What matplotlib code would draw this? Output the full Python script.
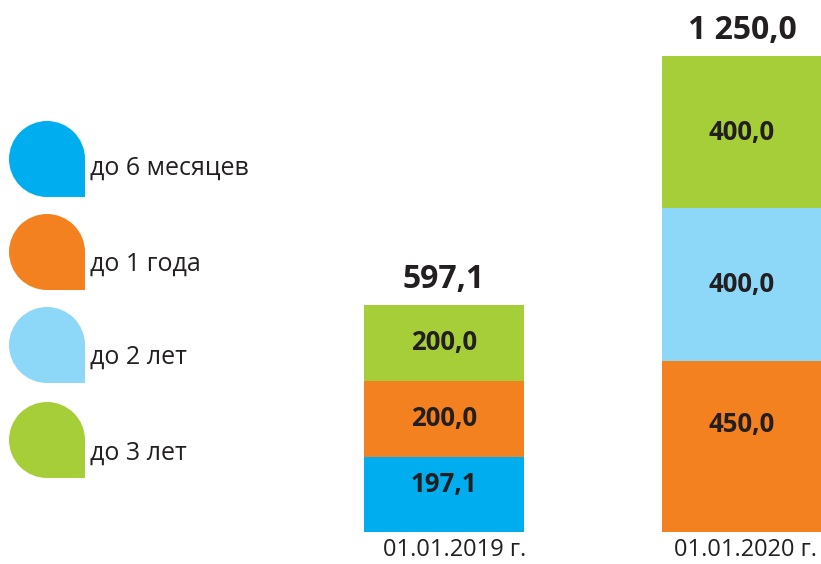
import matplotlib.pyplot as plt
from matplotlib.patches import Circle, Rectangle

plt.rcParams['font.family'] = ['Open Sans', 'DejaVu Sans']

dates = ['01.01.2019 г.', '01.01.2020 г.']
series = ['до 6 месяцев', 'до 1 года', 'до 2 лет', 'до 3 лет']
colors = ['#00aeef', '#f38120', '#8dd8f8', '#a6ce39']
values = {
    'до 6 месяцев': [197.1, 0.0],
    'до 1 года': [200.0, 450.0],
    'до 2 лет': [0.0, 400.0],
    'до 3 лет': [200.0, 400.0],
}
totals = ['597,1', '1 250,0']
ink = '#231f20'

W, H = 821, 564
fig = plt.figure(figsize=(W / 100, H / 100), dpi=100)

# bars: baseline at y=532 px, 1250 at y=56 px
ax = fig.add_axes([0, 32 / H, 1, 476 / H])
ax.set_ylim(0, 1250)
ax.set_xlim(-1.49, 1.265)
ax.axis('off')

x = [0, 1]
bottom = [0.0, 0.0]
for name, c in zip(series, colors):
    v = values[name]
    ax.bar(x, v, bottom=bottom, width=0.54, color=c, linewidth=0, clip_on=False)
    for i in range(2):
        if v[i] > 0:
            ymid = bottom[i] + v[i] / 2
            # labels in the lowest block sit a bit above its middle
            if bottom[i] == 0:
                ymid = v[i] * 0.63
            ax.text(x[i], ymid, f'{v[i]:.1f}'.replace('.', ','),
                    ha='center', va='center', fontsize=18.5, fontweight='bold', color=ink)
    bottom = [b + vv for b, vv in zip(bottom, v)]

date_dx = [0.035, 0.01]
for i in range(2):
    ax.text(x[i], bottom[i] + 66, totals[i], ha='center', va='center',
            fontsize=23, fontweight='bold', color=ink, clip_on=False)
    ax.text(x[i] + date_dx[i], -48, dates[i], ha='center', va='center',
            fontsize=17, color=ink, clip_on=False)

# legend drawn in pixel coordinates
lg = fig.add_axes([0, 0, 1, 1])
lg.set_xlim(0, W)
lg.set_ylim(H, 0)
lg.axis('off')
icon_y = [159, 252, 345, 440]
text_y = [168, 264, 357, 453]
r = 38
for name, c, iy, ty in zip(series, colors, icon_y, text_y):
    cx = 47
    lg.add_patch(Circle((cx, iy), r, color=c, linewidth=0))
    lg.add_patch(Rectangle((cx, iy), r, r, color=c, linewidth=0))
    lg.text(90, ty, name, ha='left', va='center', fontsize=18, color=ink)

fig.savefig('out.png', dpi=100)
